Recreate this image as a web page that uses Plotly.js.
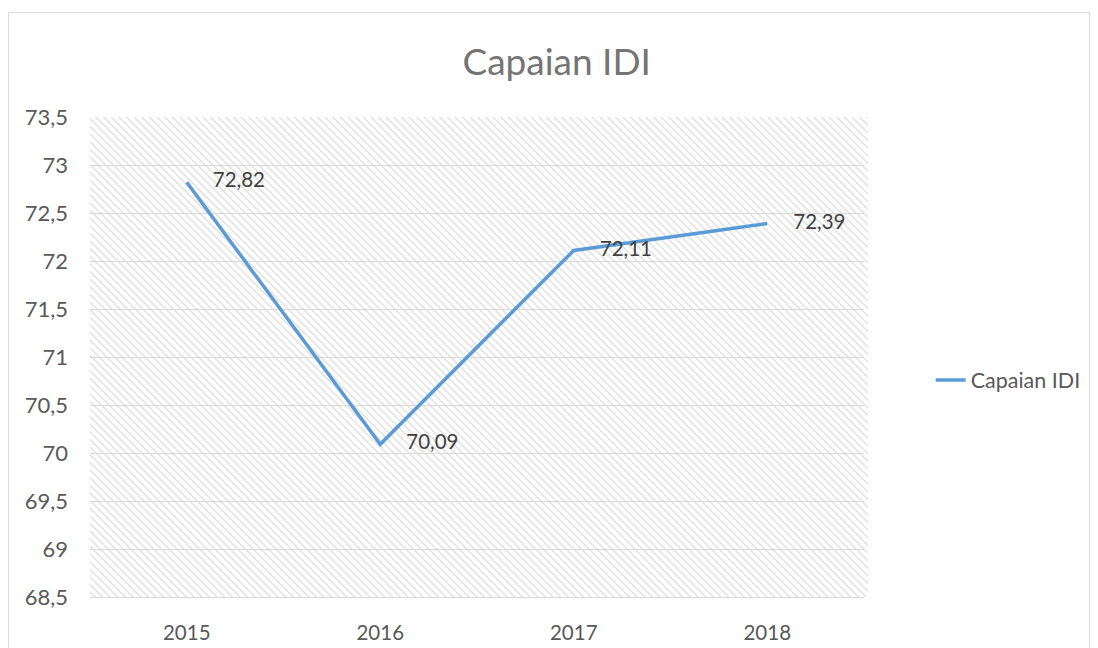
<!DOCTYPE html>
<html>
<head>
<meta charset="utf-8">
<script src="https://cdn.plot.ly/plotly-3.0.1.min.js"></script>
<style>
  html, body { margin: 0; padding: 0; background: #ffffff; }
  #wrap { position: relative; width: 1098px; height: 648px; overflow: hidden; }
  #frame { position: absolute; left: 8px; top: 12px; width: 1082px; height: 660px; border: 1px solid #D9D9D9; box-sizing: border-box; }
  #hatch { position: absolute; left: 90px; top: 117px; width: 778px; height: 480px;
    background: repeating-linear-gradient(45deg, #ffffff 0px, #ffffff 2.2px, #E4E4E4 3.0px, #E4E4E4 3.8px, #ffffff 4.6px, #ffffff 5.4px); }
  #chart { position: absolute; left: 0; top: 0; width: 1098px; height: 648px; }
</style>
</head>
<body>
<div id="wrap">
  <div id="frame"></div>
  <div id="hatch"></div>
  <div id="chart"></div>
</div>
<script>
const years = ['2015', '2016', '2017', '2018'];
const capaianIDI = [72.82, 70.09, 72.11, 72.39];
const seriesName = 'Capaian IDI';
const chartTitle = 'Capaian IDI';

const fontFam = 'Lato, "Open Sans", sans-serif';
const textCol = '#595959';

const trace = {
  x: years,
  y: capaianIDI,
  type: 'scatter',
  mode: 'lines+markers+text',
  name: seriesName,
  line: { color: '#5B9BD5', width: 3.5 },
  marker: { size: 40, color: 'rgba(0,0,0,0)', line: { width: 0 } },
  texttemplate: '%{y:.2f}',
  textposition: 'middle right',
  textfont: { family: fontFam, size: 20.5, color: '#404040' },
  cliponaxis: false
};

const layout = {
  width: 1098,
  height: 648,
  margin: { l: 90, r: 230, t: 117, b: 51, pad: 0 },
  paper_bgcolor: 'rgba(0,0,0,0)',
  plot_bgcolor: 'rgba(0,0,0,0)',
  separators: ',.',
  title: {
    text: chartTitle,
    font: { family: fontFam, size: 37, color: '#757575' },
    x: 0.507, xref: 'container', xanchor: 'center',
    y: 1 - 62 / 648, yref: 'container', yanchor: 'middle'
  },
  xaxis: {
    type: 'category',
    range: [-0.5, 3.5],
    showgrid: false,
    zeroline: false,
    showline: true,
    linecolor: '#D9D9D9',
    linewidth: 1,
    ticks: '',
    ticklabelstandoff: 17,
    tickfont: { family: fontFam, size: 20.5, color: textCol }
  },
  yaxis: {
    range: [68.5, 73.5],
    dtick: 0.5,
    tick0: 68.5,
    showgrid: true,
    gridcolor: '#D9D9D9',
    gridwidth: 1,
    zeroline: false,
    showline: false,
    ticks: '',
    ticklabelstandoff: 21,
    tickformat: '.1~f',
    tickfont: { family: fontFam, size: 22, color: textCol }
  },
  showlegend: true,
  legend: {
    x: (935 - 90) / 778,
    xanchor: 'left',
    y: (597 - 380) / 480,
    yanchor: 'middle',
    font: { family: fontFam, size: 21.5, color: textCol },
    bgcolor: 'rgba(0,0,0,0)',
    itemwidth: 30
  }
};

Plotly.newPlot('chart', [trace], layout, { displayModeBar: false, staticPlot: true });
</script>
</body>
</html>
